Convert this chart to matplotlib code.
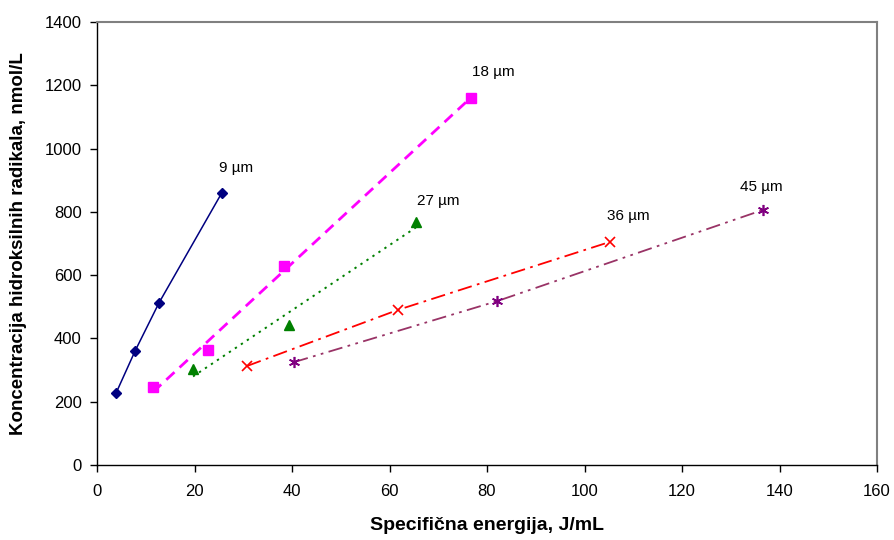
import numpy as np
import matplotlib
matplotlib.use("Agg")
import matplotlib.pyplot as plt

plt.rcParams['font.family'] = ['Liberation Sans', 'DejaVu Sans']

x9 = [3.9, 7.8, 12.7, 25.6]
y9 = [227, 360, 512, 860]
x18 = [11.5, 22.8, 38.4, 76.7]
y18 = [246, 363, 629, 1160]
x27 = [19.7, 39.4, 65.4]
y27 = [303, 442, 768]
x36 = [30.8, 61.7, 105.2]
y36 = [313, 490, 705]
x45 = [40.4, 82.1, 136.6]
y45 = [325, 518, 806]

labels = ["9 µm", "18 µm", "27 µm", "36 µm", "45 µm"]
label_x = [28.5, 81.2, 70.0, 109.0, 136.2]
label_y = [939, 1242, 834, 787, 878]

fig = plt.figure(figsize=(8.94, 5.40), dpi=100)
ax = fig.add_axes([97/894, 75/540, 780/894, 443/540])

# 9 µm: connected points
ax.plot(x9, y9, color='#000080', lw=1.1, ls='-', zorder=2)
ax.plot(x9, y9, ls='none', marker='D', ms=5.5, color='#000080', zorder=3)

# 18 µm: linear trend
c = np.polyfit(x18, y18, 1)
xs = np.array([min(x18), max(x18)])
ax.plot(xs, np.polyval(c, xs), color='#FF00FF', lw=2.0, ls=(0, (4, 2.5)), zorder=2)
ax.plot(x18, y18, ls='none', marker='s', ms=6.5, color='#FF00FF', zorder=3)

# 27 µm: linear trend
c = np.polyfit(x27, y27, 1)
xs = np.array([min(x27), max(x27)])
ax.plot(xs, np.polyval(c, xs), color='#008000', lw=1.4, ls=(0, (1.2, 2.5)), zorder=2)
ax.plot(x27, y27, ls='none', marker='^', ms=7.5, color='#008000', zorder=3)

# 36 µm
ax.plot(x36, y36, color='#FF0000', lw=1.3, ls=(0, (8, 3, 1.5, 3)), zorder=2)
ax.plot(x36, y36, ls='none', marker='x', ms=7.5, mew=1.2, color='#FF0000', zorder=3)

# 45 µm
ax.plot(x45, y45, color='#993366', lw=1.3, ls=(0, (8, 3, 1.5, 3, 1.5, 3)), zorder=2)
ax.plot(x45, y45, ls='none', marker=(6, 2, 0), ms=8, mew=1.2, color='#800080', zorder=3)

for t, lx, ly in zip(labels, label_x, label_y):
    ax.text(lx, ly, t, ha='center', va='center', fontsize=11, color='black')

ax.set_xlim(0, 160)
ax.set_ylim(0, 1400)
ax.set_xticks(np.arange(0, 161, 20))
ax.set_yticks(np.arange(0, 1401, 200))
ax.tick_params(axis='both', direction='out', length=5, width=1, labelsize=12)
ax.tick_params(axis='x', pad=9)
ax.tick_params(axis='y', pad=6)

for s in ['top', 'right']:
    ax.spines[s].set_color('#808080')
    ax.spines[s].set_linewidth(1.5)
for s in ['left', 'bottom']:
    ax.spines[s].set_color('black')
    ax.spines[s].set_linewidth(1)

ax.set_xlabel('Specifična energija, J/mL', fontsize=14, fontweight='bold')
ax.set_ylabel('Koncentracija hidroksilnih radikala, nmol/L', fontsize=13.5, fontweight='bold')
ax.xaxis.set_label_coords(0.5, -0.117)
ax.yaxis.set_label_coords(-0.09, 0.5)

fig.savefig('out.png', dpi=100)
